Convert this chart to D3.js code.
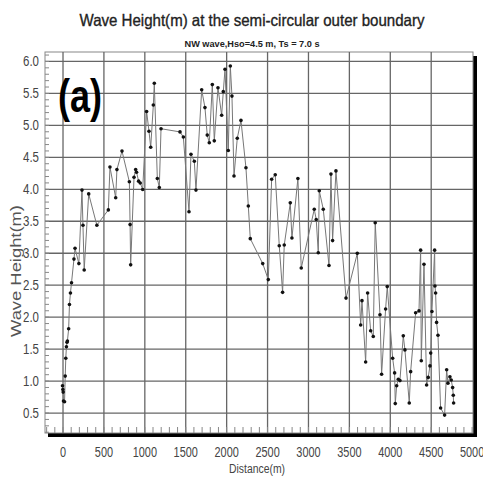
<!DOCTYPE html>
<html lang="en">
  <head>
    <meta charset="utf-8">
    <title>Wave Height</title>
    <style media="screen">
      body { margin: 0; background: #fff; }
      text { font-family: "Liberation Sans", Arial, sans-serif; fill: #333; }
      .grid line { stroke: #666; stroke-width: 1.3; }
      .grid path { display: none; }
      .minor line { stroke: #888; stroke-width: 1; }
      .minor path { display: none; }
    </style>
  </head>
  <body>
    <div id="graph-div"></div>

    <script src="https://d3js.org/d3.v7.min.js"></script>
    <script type="text/javascript">

    var distance = [0, 4, 8, 12, 25, 33, 40, 48, 55, 60, 75, 85, 97, 110, 140, 153, 200, 238, 250, 265,
      320, 420, 560, 580, 650, 665, 727, 817, 826, 833, 874, 894, 905, 930, 950, 980, 1028, 1057, 1078, 1110,
      1122, 1159, 1183, 1204, 1436, 1477, 1546, 1570, 1611, 1631, 1701, 1741, 1769, 1794, 1831, 1855, 1900, 1945, 1965, 1986,
      2026, 2051, 2071, 2096, 2136, 2181, 2242, 2271, 2295, 2447, 2515, 2556, 2600, 2649, 2690, 2710, 2784, 2804, 2877, 2918,
      3077, 3101, 3126, 3138, 3187, 3257, 3281, 3301, 3342, 3465, 3603, 3644, 3660, 3705, 3729, 3766, 3798, 3822, 3880, 3900,
      3949, 3969, 4035, 4059, 4067, 4084, 4104, 4124, 4165, 4185, 4238, 4255, 4316, 4357, 4377, 4385, 4418, 4450, 4470, 4491,
      4500, 4515, 4548, 4552, 4560, 4572, 4589, 4621, 4670, 4695, 4711, 4735, 4751, 4768, 4776, 4780];

    var waveHeight = [0.92, 0.86, 0.82, 0.68, 0.67, 1.07, 1.35, 1.53, 1.6, 1.62, 1.81, 2.19, 2.37, 2.53, 2.9, 3.07, 2.83, 3.98, 3.43, 2.73,
      3.92, 3.43, 3.67, 4.34, 3.86, 4.3, 4.59, 4.11, 3.44, 2.81, 4.18, 4.3, 4.26, 4.12, 4.09, 3.99, 5.21, 4.9, 4.65, 5.31,
      5.65, 4.16, 4.02, 4.94, 4.89, 4.81, 3.64, 4.54, 4.43, 3.98, 5.55, 5.27, 4.84, 4.72, 5.63, 4.75, 5.58, 5.15, 5.52, 5.87,
      4.6, 5.92, 5.45, 4.2, 4.79, 5.07, 4.33, 3.73, 3.22, 2.83, 2.58, 4.15, 4.22, 3.11, 2.38, 3.12, 3.78, 3.23, 4.16, 2.76,
      3.68, 3.52, 3.0, 3.97, 3.68, 2.8, 4.23, 3.19, 4.28, 2.29, 2.99, 1.87, 2.25, 1.29, 2.37, 1.78, 1.69, 3.47, 2.03, 1.1,
      2.12, 2.47, 1.35, 1.12, 0.64, 0.92, 1.02, 1.0, 1.7, 1.48, 0.65, 1.14, 2.06, 2.09, 3.04, 1.31, 2.82, 0.93, 1.05, 1.23,
      1.43, 2.08, 3.04, 2.48, 2.37, 1.91, 1.71, 0.57, 0.46, 1.17, 0.96, 1.06, 1.01, 0.89, 0.77, 0.65];

    var xTicks = [0, 500, 1000, 1500, 2000, 2500, 3000, 3500, 4000, 4500, 5000];
    var xGrid = [0, 500, 1000, 1500, 2000, 2500, 3000, 3500, 4000, 4500];
    var yTicks = [0.5, 1.0, 1.5, 2.0, 2.5, 3.0, 3.5, 4.0, 4.5, 5.0, 5.5, 6.0];

    var data = distance.map(function(d, i) { return {x: d, y: waveHeight[i]}; });

    var margin = {top: 52, right: 10, bottom: 51, left: 45},
        width = 473 - margin.left,
        height = 433 - margin.top;

    var svg = d3.select("#graph-div")
      .append("svg")
        .attr("width", 483)
        .attr("height", 484);

    var g = svg.append("g")
        .attr("transform", "translate(" + margin.left + "," + margin.top + ")");

    var x = d3.scaleLinear().domain([-214, 5017]).range([0, width]);
    var y = d3.scaleLinear().domain([0.18, 6.14]).range([height, 0]);

    // shadow frame (thick black right and bottom)
    g.append("rect")
        .attr("x", 3).attr("y", 4)
        .attr("width", width + 1).attr("height", height)
        .style("fill", "#000");
    g.append("rect")
        .attr("width", width).attr("height", height)
        .style("fill", "#fff")
        .style("stroke", "#888")
        .style("stroke-width", 1);

    // grid
    g.append("g")
        .attr("class", "grid")
        .call(d3.axisLeft(y).tickValues(yTicks).tickSize(-width).tickFormat(""));
    g.append("g")
        .attr("class", "grid")
        .attr("transform", "translate(0," + height + ")")
        .call(d3.axisBottom(x).tickValues(xGrid).tickSize(height).tickFormat(""))
        .selectAll("line").attr("y2", -height);

    // minor ticks
    g.append("g")
        .attr("class", "minor")
        .call(d3.axisLeft(y).tickValues(d3.range(0.2, 6.15, 0.1)).tickSize(-4).tickFormat(""));
    g.append("g")
        .attr("class", "minor")
        .attr("transform", "translate(0," + height + ")")
        .call(d3.axisBottom(x).tickValues(d3.range(-200, 5001, 100)).tickSize(-6).tickFormat(""));

    // tick labels (narrowed like the original condensed font)
    var yAxis = g.append("g")
        .call(d3.axisLeft(y).tickValues(yTicks).tickSize(0).tickPadding(0).tickFormat(d3.format(".1f")));
    yAxis.select("path").remove();
    yAxis.selectAll("text")
        .attr("x", null)
        .attr("transform", "translate(-6,0) scale(0.82,1)")
        .style("font-size", "14px").style("fill", "#444");

    var xAxis = g.append("g")
        .attr("transform", "translate(0," + height + ")")
        .call(d3.axisBottom(x).tickValues(xTicks).tickSize(0).tickPadding(14).tickFormat(d3.format("d")));
    xAxis.select("path").remove();
    xAxis.selectAll("text")
        .attr("transform", "scale(0.78,1)")
        .style("font-size", "14px").style("fill", "#444");

    // data
    var line = d3.line()
        .x(function(d) { return x(d.x); })
        .y(function(d) { return y(d.y); });

    g.append("path")
        .datum(data)
        .attr("d", line)
        .style("fill", "none")
        .style("stroke", "#777")
        .style("stroke-width", 1);

    g.selectAll("circle")
      .data(data)
      .enter()
      .append("circle")
        .attr("cx", function(d) { return x(d.x); })
        .attr("cy", function(d) { return y(d.y); })
        .attr("r", 1.8)
        .style("fill", "#111");

    // titles
    svg.append("text")
        .attr("x", 252).attr("y", 26)
        .attr("text-anchor", "middle")
        .attr("textLength", 345).attr("lengthAdjust", "spacingAndGlyphs")
        .style("font-size", "16.5px")
        .style("fill", "#222")
        .style("stroke", "#222")
        .style("stroke-width", 0.35)
        .text("Wave Height(m) at the semi-circular outer boundary");

    svg.append("text")
        .attr("x", 252).attr("y", 46.5)
        .attr("text-anchor", "middle")
        .attr("textLength", 135).attr("lengthAdjust", "spacingAndGlyphs")
        .style("font-size", "9.5px")
        .style("font-weight", "bold")
        .style("fill", "#222")
        .text("NW wave,Hso=4.5 m, Ts = 7.0 s");

    svg.append("text")
        .attr("x", 58).attr("y", 112)
        .attr("textLength", 44).attr("lengthAdjust", "spacingAndGlyphs")
        .style("font-size", "46px")
        .style("font-weight", "bold")
        .style("fill", "#000")
        .text("(a)");

    svg.append("text")
        .attr("x", 257).attr("y", 473)
        .attr("text-anchor", "middle")
        .attr("textLength", 56).attr("lengthAdjust", "spacingAndGlyphs")
        .style("font-size", "12.5px")
        .style("fill", "#444")
        .text("Distance(m)");

    svg.append("text")
        .attr("transform", "translate(21,271) rotate(-90)")
        .attr("text-anchor", "middle")
        .attr("textLength", 132).attr("lengthAdjust", "spacingAndGlyphs")
        .style("font-size", "14px")
        .style("fill", "#555")
        .text("Wave Height(m)");

    </script>
  </body>
</html>
